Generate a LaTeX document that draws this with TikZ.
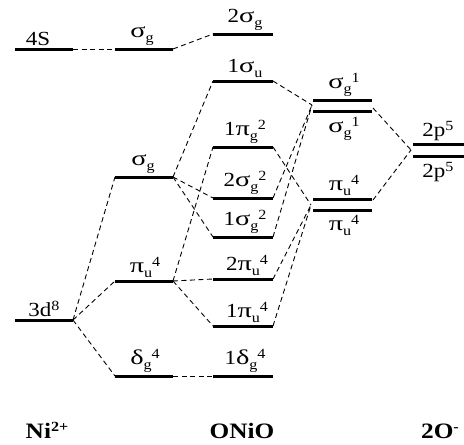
\documentclass[tikz,border=0pt]{standalone}
\usepackage{fontspec}
\setmainfont{Liberation Serif}
\newfontfamily\labfont[FakeStretch=1.15]{Liberation Serif}
\newfontfamily\gkfont[FakeStretch=1.35]{Liberation Serif}
\newcommand\gk[1]{{\gkfont\fontsize{21}{21}\selectfont #1}}
\newcommand\dn[1]{\raisebox{-0.25em}{\fontsize{14}{14}\selectfont #1}}
\newcommand\up[1]{\raisebox{0.3em}{\fontsize{14}{14}\selectfont #1}}
\newcommand\mklevel[4]{%
  \coordinate (#1-l) at (#2,#4);
  \coordinate (#1-r) at (#3,#4);
  \draw[lvl] (#1-l) -- (#1-r);}
\begin{document}
\begin{tikzpicture}[x=1pt,y=-1pt,
  lvl/.style={line width=3pt},
  con/.style={dash pattern=on 5pt off 3.5pt, line width=0.9pt},
  lab/.style={inner sep=0pt, font=\labfont\fontsize{20}{20}\selectfont},
  alab/.style={lab, anchor=south},
  blab/.style={lab, anchor=north},
  ttl/.style={inner sep=0pt, anchor=base, font=\labfont\bfseries\fontsize{22}{22}\selectfont}]
\useasboundingbox (0,0) rectangle (464,445);
% levels
\mklevel{fours}{15}{73}{49}
\mklevel{nisg}{115}{173}{49}
\mklevel{twosg}{213}{273}{34}
\mklevel{onesu}{213}{273}{81}
\mklevel{onepg}{213}{273}{147}
\mklevel{sgm}{115}{173}{177}
\mklevel{twosgb}{213}{273}{198}
\mklevel{onesgb}{213}{273}{237}
\mklevel{pu}{115}{173}{281}
\mklevel{twopu}{213}{273}{279}
\mklevel{onepu}{213}{273}{326}
\mklevel{threed}{15}{73}{320}
\mklevel{dg}{115}{173}{376}
\mklevel{onedg}{213}{273}{376}
\mklevel{sga}{313}{372}{100}
\mklevel{sgb}{313}{372}{111}
\mklevel{pua}{313}{372}{199}
\mklevel{pub}{313}{372}{210}
\mklevel{ppa}{413}{464}{144}
\mklevel{ppb}{413}{464}{156}
% junctions
\coordinate (sgJ) at (312,105);
\coordinate (sgJr) at (373,108);
\coordinate (puJ) at (311,205);
\coordinate (puJr) at (373,200);
\coordinate (ppJ) at (411,150);
% connectors
\draw[con] (fours-r) -- (nisg-l);
\draw[con] (nisg-r) -- (twosg-l);
\draw[con] (threed-r) -- (sgm-l);
\draw[con] (threed-r) -- (pu-l);
\draw[con] (threed-r) -- (dg-l);
\draw[con] (dg-r) -- (onedg-l);
\draw[con] (sgm-r) -- (onesu-l);
\draw[con] (sgm-r) -- (twosgb-l);
\draw[con] (sgm-r) -- (onesgb-l);
\draw[con] (pu-r) -- (onepg-l);
\draw[con] (pu-r) -- (twopu-l);
\draw[con] (pu-r) -- (onepu-l);
\draw[con] (onesu-r) -- (sgJ);
\draw[con] (twosgb-r) -- (sgJ);
\draw[con] (onesgb-r) -- (sgJ);
\draw[con] (onepg-r) -- (puJ);
\draw[con] (twopu-r) -- (puJ);
\draw[con] (onepu-r) -- (puJ);
\draw[con] (sgJr) -- (ppJ);
\draw[con] (puJr) -- (ppJ);
% labels
\node[alab] (t-fours) at (38,45.5) {4S};
\node[alab] (t-nisg) at (142,45.5) {\gk{σ}\dn{g}};
\node[alab] (t-twosg) at (245,30.5) {2\gk{σ}\dn{g}};
\node[alab] (t-onesu) at (245,77.5) {1\gk{σ}\dn{u}};
\node[alab] (t-sga) at (344,96.5) {\gk{σ}\dn{g}\up{1}};
\node[blab] (t-sgb) at (344,117) {\gk{σ}\dn{g}\up{1}};
\node[alab] (t-ppa) at (438,140.5) {2p\up{5}};
\node[blab] (t-ppb) at (438,162) {2p\up{5}};
\node[alab] (t-onepg) at (245,143.5) {1\gk{π}\dn{g}\up{2}};
\node[alab] (t-sgm) at (143,173.5) {\gk{σ}\dn{g}};
\node[alab] (t-twosgb) at (245,194.5) {2\gk{σ}\dn{g}\up{2}};
\node[alab] (t-pua) at (344,195.5) {\gk{π}\dn{u}\up{4}};
\node[blab] (t-pub) at (344,215) {\gk{π}\dn{u}\up{4}};
\node[alab] (t-onesgb) at (245,233.5) {1\gk{σ}\dn{g}\up{2}};
\node[alab] (t-pu) at (145,277.5) {\gk{π}\dn{u}\up{4}};
\node[alab] (t-twopu) at (247,275.5) {2\gk{π}\dn{u}\up{4}};
\node[alab] (t-threed) at (44,316.5) {3d\up{8}};
\node[alab] (t-onepu) at (247,322.5) {1\gk{π}\dn{u}\up{4}};
\node[alab] (t-dg) at (145,372.5) {\gk{δ}\dn{g}\up{4}};
\node[alab] (t-onedg) at (245,372.5) {1\gk{δ}\dn{g}\up{4}};
% titles
\node[ttl] (ni) at (47,438) {Ni\up{2+}};
\node[ttl] (onio) at (242,438) {ONiO};
\node[ttl] (oxy) at (440,438) {2O\up{-}};
\end{tikzpicture}
\end{document}
